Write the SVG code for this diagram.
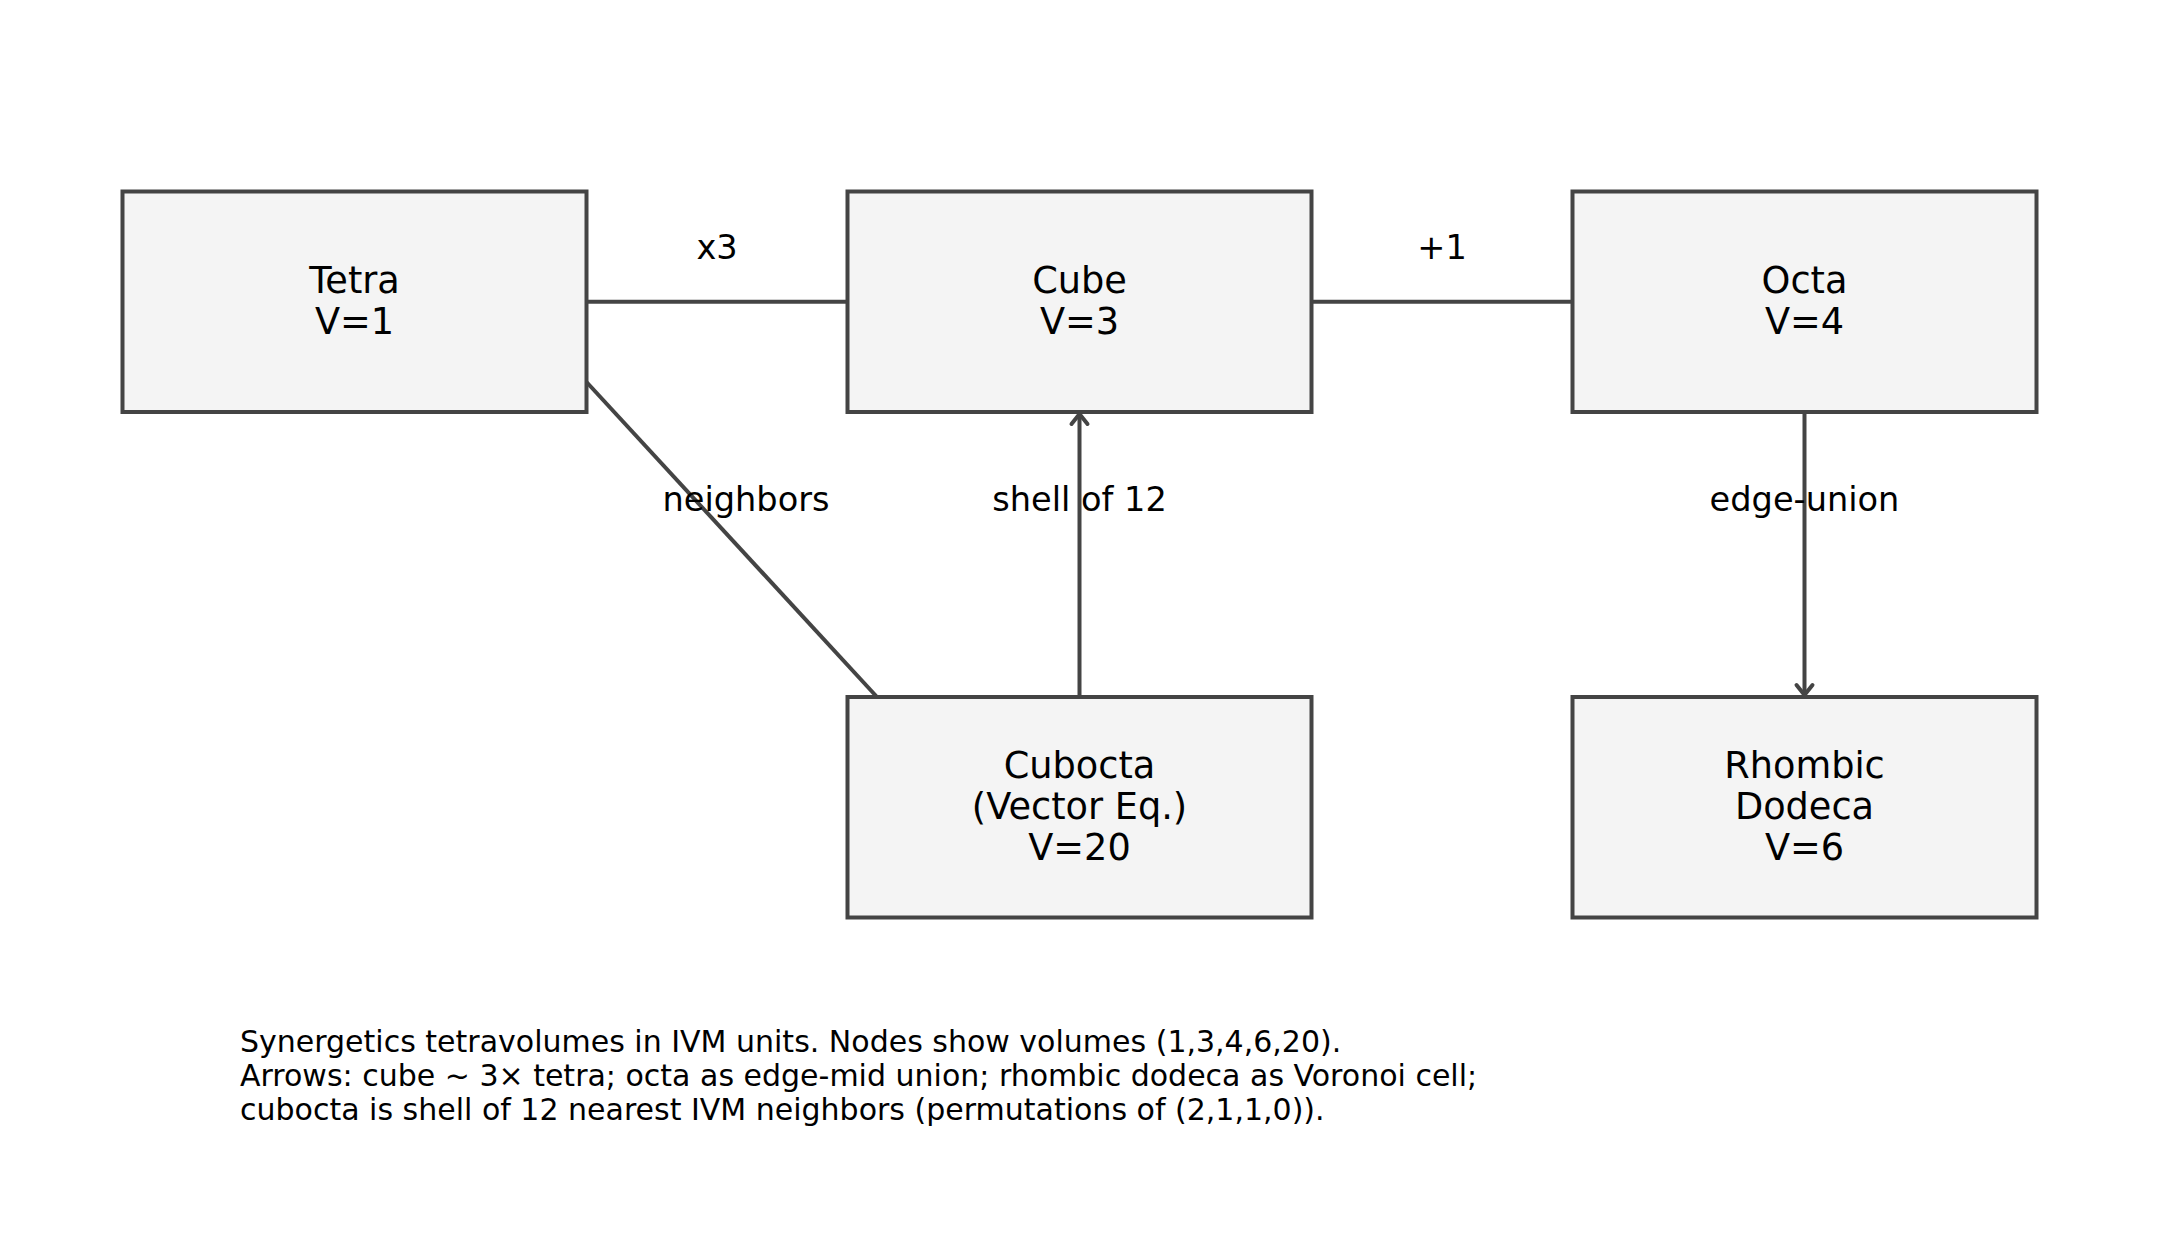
<svg xmlns="http://www.w3.org/2000/svg" width="2160" height="1248" viewBox="0 0 2160 1248">
<style>
.box{fill:#f4f4f4;stroke:#444444;stroke-width:4}
.nt{font-family:"DejaVu Sans",sans-serif;font-size:36.7px;fill:#000;text-anchor:middle}
.el{font-family:"DejaVu Sans",sans-serif;font-size:33.6px;fill:#000;text-anchor:middle}
.cap{font-family:"DejaVu Sans",sans-serif;font-size:30px;fill:#000}
.edge{stroke:#444444;stroke-width:4;fill:none}
</style>
<defs>
<marker id="chev" markerUnits="userSpaceOnUse" markerWidth="30" markerHeight="30" viewBox="-15 -15 30 30" refX="0" refY="0" orient="auto">
<path d="M-10,-8 L0,0 L-10,8" fill="none" stroke="#444444" stroke-width="4" stroke-linecap="round" stroke-linejoin="round"/>
</marker>
</defs>
<rect width="2160" height="1248" fill="#ffffff"/>
<g id="connectors">
<line class="edge" x1="586.5" y1="301.75" x2="847.5" y2="301.75"/>
<line class="edge" x1="1311.5" y1="301.75" x2="1572.5" y2="301.75"/>
<line class="edge" x1="586.5" y1="382" x2="877" y2="697"/>
<line class="edge" x1="1079.5" y1="697" x2="1079.5" y2="414" marker-end="url(#chev)"/>
<line class="edge" x1="1804.5" y1="412" x2="1804.5" y2="695" marker-end="url(#chev)"/>
<text class="el" x="717" y="259">x3</text>
<text class="el" x="1442" y="259">+1</text>
<text class="el" x="746" y="510.5">neighbors</text>
<text class="el" x="1079.5" y="510.5">shell of 12</text>
<text class="el" x="1804.5" y="510.5">edge-union</text>
</g>
<g id="tetra">
<rect class="box" x="122.5" y="191.5" width="464" height="220.5"/>
<text class="nt" x="354.5" y="293">Tetra</text>
<text class="nt" x="354.5" y="334">V=1</text>
</g>
<g id="cube">
<rect class="box" x="847.5" y="191.5" width="464" height="220.5"/>
<text class="nt" x="1079.5" y="293">Cube</text>
<text class="nt" x="1079.5" y="334">V=3</text>
</g>
<g id="octa">
<rect class="box" x="1572.5" y="191.5" width="464" height="220.5"/>
<text class="nt" x="1804.5" y="293">Octa</text>
<text class="nt" x="1804.5" y="334">V=4</text>
</g>
<g id="cubocta">
<rect class="box" x="847.5" y="697" width="464" height="220.5"/>
<text class="nt" x="1079.5" y="777.5">Cubocta</text>
<text class="nt" x="1079.5" y="818.5">(Vector Eq.)</text>
<text class="nt" x="1079.5" y="859.5">V=20</text>
</g>
<g id="rhombic">
<rect class="box" x="1572.5" y="697" width="464" height="220.5"/>
<text class="nt" x="1804.5" y="777.5">Rhombic</text>
<text class="nt" x="1804.5" y="818.5">Dodeca</text>
<text class="nt" x="1804.5" y="859.5">V=6</text>
</g>
<g id="caption">
<text class="cap" x="240" y="1051.5">Synergetics tetravolumes in IVM units. Nodes show volumes (1,3,4,6,20).</text>
<text class="cap" x="240" y="1085.5">Arrows: cube ~ 3× tetra; octa as edge-mid union; rhombic dodeca as Voronoi cell;</text>
<text class="cap" x="240" y="1119.5">cubocta is shell of 12 nearest IVM neighbors (permutations of (2,1,1,0)).</text>
</g>
</svg>
